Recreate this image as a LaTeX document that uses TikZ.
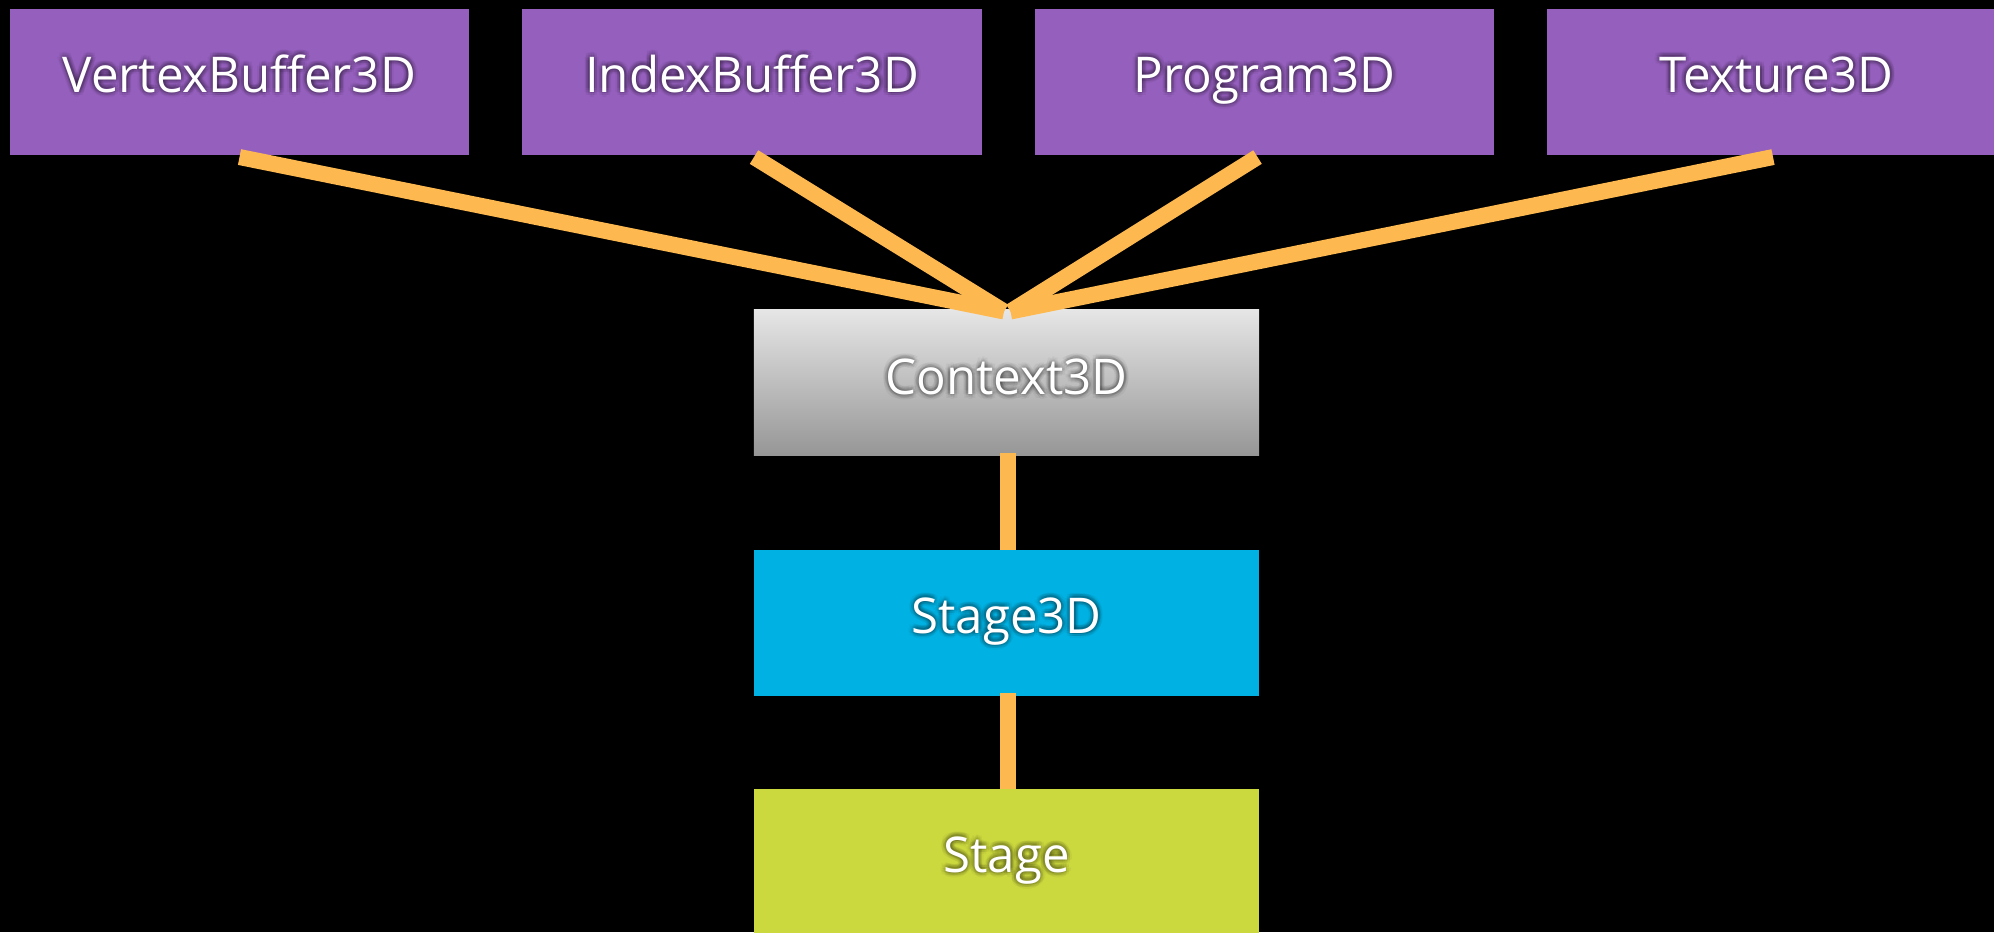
\documentclass[tikz,border=0pt]{standalone}
\usepackage{fontspec}
\setmainfont{Open Sans}
\definecolor{boxpurple}{RGB}{149,95,189}
\definecolor{boxblue}{RGB}{0,178,227}
\definecolor{boxlime}{RGB}{204,217,62}
\definecolor{ctxtop}{RGB}{230,230,230}
\definecolor{ctxbottom}{RGB}{150,150,150}
\definecolor{linkorange}{RGB}{253,185,79}

% white caption with a soft dark halo behind it
\newcommand\glowcaption[3]{% #1 node name, #2 anchor point, #3 text
  \coordinate (#1pos) at #2;
  \foreach \ang in {0,45,...,315}{
    \node[boxtext, text=black, opacity=0.045] at ([shift={(\ang:0.05cm)}]#1pos) {#3};
    \node[boxtext, text=black, opacity=0.045] at ([shift={(\ang+22.5:0.034cm)}]#1pos) {#3};
    \node[boxtext, text=black, opacity=0.045] at ([shift={(\ang:0.018cm)}]#1pos) {#3};
  }
  \node[boxtext] (#1) at (#1pos) {#3};
}

\begin{document}
\begin{tikzpicture}[x=0.01cm, y=-0.01cm,
  box/.style={rectangle, minimum width=4.59cm, minimum height=1.46cm,
              inner sep=0pt, outer sep=0pt, draw=none},
  apibox/.style={box, fill=boxpurple},
  wide/.style={box, minimum width=5.05cm},
  link/.style={draw=linkorange, line width=0.16cm, line cap=butt},
  boxtext/.style={text=white, font=\fontsize{14}{16}\selectfont,
                  anchor=base, inner sep=0pt, outer sep=0pt}
]
\clip (0,0) rectangle (1994,932);
\fill[black] (0,0) rectangle (1994,932);

% resource objects
\node[apibox] (vb)   at (239.5,82) {};
\node[apibox] (ib)   at (752,82)   {};
\node[apibox] (prog) at (1264.5,82) {};
\node[apibox] (tex)  at (1776.5,82) {};

% rendering chain
\node[wide, top color=ctxtop, bottom color=ctxbottom] (ctx) at (1006.5,382.5) {};
\node[wide, fill=boxblue] (s3d)   at (1006.5,623) {};
\node[wide, fill=boxlime] (stage) at (1006.5,862) {};

% connector end points on top of the context box
\coordinate (hubL) at ([xshift=-0.025cm, yshift=-0.02cm]ctx.north);
\coordinate (hubR) at ([xshift=0.04cm, yshift=-0.02cm]ctx.north);

% fan of links into the context
\draw[link] ([yshift=-0.02cm]vb.south) -- (hubL);
\draw[link] ([xshift=0.02cm, yshift=-0.02cm]ib.south) -- (hubL);
\draw[link] ([xshift=-0.07cm, yshift=-0.02cm]prog.south) -- (hubR);
\draw[link] ([xshift=-0.035cm, yshift=-0.02cm]tex.south) -- (hubR);

% vertical chain links
\draw[link] ([xshift=0.015cm, yshift=0.025cm]ctx.south) -- ([xshift=0.015cm]s3d.north);
\draw[link] ([xshift=0.015cm, yshift=0.03cm]s3d.south) -- ([xshift=0.015cm]stage.north);

% captions
\glowcaption{vbtext}{([yshift=-0.10cm]vb.center)}{VertexBuffer3D}
\glowcaption{ibtext}{([yshift=-0.10cm]ib.center)}{IndexBuffer3D}
\glowcaption{progtext}{([yshift=-0.10cm]prog.center)}{Program3D}
\glowcaption{textext}{([yshift=-0.10cm]tex.center)}{Texture3D}
\glowcaption{ctxtext}{([yshift=-0.12cm]ctx.center)}{Context3D}
\glowcaption{s3dtext}{([yshift=-0.10cm]s3d.center)}{Stage3D}
\glowcaption{stagetext}{([yshift=-0.10cm]stage.center)}{Stage}
\end{tikzpicture}
\end{document}
